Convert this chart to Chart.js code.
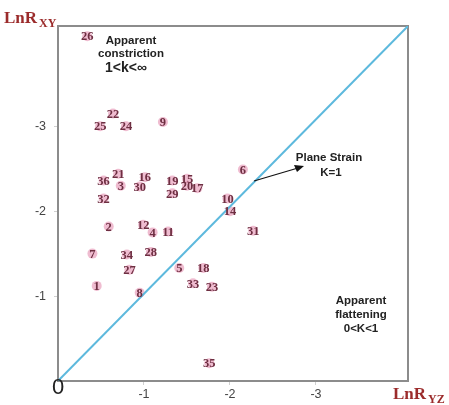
<!DOCTYPE html>
<html>
<head>
<meta charset="utf-8">
<script src="https://cdn.jsdelivr.net/npm/chart.js@4.4.0/dist/chart.umd.min.js"></script>
<style>
  html, body { margin: 0; padding: 0; background: #fff; }
  #wrap { width: 449px; height: 405px; position: relative; }
</style>
</head>
<body>
<div id="wrap"><canvas id="chart"></canvas></div>
<script>
// Échantillons : numéro, LnR_YZ (x), LnR_XY (y)
const SAMPLE_IDS = ['26','22','25','24','9','36','21','3','30','16','19','15','20','29','17','32',
  '2','12','4','11','7','34','28','27','5','18','1','8','33','23','6','10','14','31','35'];
const LN_RYZ = [-0.34,-0.64,-0.49,-0.79,-1.22,-0.53,-0.70,-0.73,-0.95,-1.01,-1.33,-1.50,-1.50,-1.33,-1.62,-0.53,
  -0.59,-0.99,-1.10,-1.28,-0.40,-0.80,-1.08,-0.83,-1.41,-1.69,-0.45,-0.95,-1.57,-1.79,-2.15,-1.97,-2.00,-2.27,-1.76];
const LN_RXY = [-4.06,-3.15,-3.00,-3.00,-3.05,-2.36,-2.44,-2.30,-2.29,-2.40,-2.36,-2.38,-2.30,-2.21,-2.27,-2.15,
  -1.82,-1.84,-1.75,-1.76,-1.50,-1.49,-1.52,-1.31,-1.33,-1.33,-1.12,-1.04,-1.15,-1.11,-2.49,-2.15,-2.00,-1.77,-0.21];

// Droite K=1 (déformation plane) : du coin origine au coin opposé
const K1_X = [0, -4.07];
const K1_Y = [0, -4.18];

const X_TICKS = [-1, -2, -3];
const Y_TICKS = [-1, -2, -3];

const GREY = '#8c8c8c';
const LABEL_RED = '#9b2b2b';

const points = LN_RYZ.map((x, i) => ({ x, y: LN_RXY[i], id: SAMPLE_IDS[i] }));

// Plugin : cadre, étiquettes des points, annotations
const decor = {
  id: 'decor',
  beforeDatasetsDraw(chart) {
    const { ctx, chartArea: a } = chart;
    ctx.save();
    ctx.strokeStyle = GREY;
    ctx.lineWidth = 2;
    ctx.strokeRect(a.left, a.top, a.right - a.left, a.bottom - a.top);
    ctx.restore();
  },
  afterDatasetsDraw(chart) {
    const { ctx, chartArea: a } = chart;
    const xs = chart.scales.x, ys = chart.scales.y;
    ctx.save();
    // numéros des échantillons
    ctx.font = 'bold 12.5px "Liberation Serif"';
    ctx.fillStyle = '#6e2f42';
    ctx.textAlign = 'center';
    ctx.textBaseline = 'middle';
    points.forEach(p => {
      ctx.fillText(p.id, xs.getPixelForValue(p.x), ys.getPixelForValue(p.y) + 1);
    });

    // titres des axes
    ctx.fillStyle = LABEL_RED;
    ctx.textAlign = 'left';
    ctx.textBaseline = 'alphabetic';
    ctx.font = 'bold 17px "Liberation Serif"';
    ctx.fillText('LnR', 4, 23);
    ctx.font = 'bold 12px "Liberation Serif"';
    ctx.fillText('XY', 39, 27);
    ctx.font = 'bold 17px "Liberation Serif"';
    ctx.fillText('LnR', 393, 399);
    ctx.font = 'bold 12px "Liberation Serif"';
    ctx.fillText('YZ', 428, 403);

    // origine
    ctx.fillStyle = '#222';
    ctx.font = '22px "Liberation Sans"';
    ctx.textAlign = 'center';
    ctx.fillText('0', a.left, a.bottom + 13);

    // annotations
    ctx.fillStyle = '#222';
    ctx.font = 'bold 11.5px "Liberation Sans"';
    ctx.fillText('Apparent', 131, 44);
    ctx.fillText('constriction', 131, 57);
    ctx.font = 'bold 14px "Liberation Sans"';
    ctx.fillText('1<k<\u221e', 126, 72);

    ctx.font = 'bold 11.5px "Liberation Sans"';
    ctx.fillText('Plane Strain', 329, 161);
    ctx.fillText('K=1', 331, 176);

    ctx.fillText('Apparent', 361, 304);
    ctx.fillText('flattening', 361, 318);
    ctx.fillText('0<K<1', 361, 332);

    // flèche
    ctx.strokeStyle = '#111';
    ctx.lineWidth = 1.2;
    ctx.beginPath();
    ctx.moveTo(254, 181);
    ctx.lineTo(298, 168);
    ctx.stroke();
    ctx.beginPath();
    ctx.moveTo(304, 166);
    ctx.lineTo(294, 165);
    ctx.lineTo(297, 172);
    ctx.closePath();
    ctx.fillStyle = '#111';
    ctx.fill();
    ctx.restore();
  }
};

new Chart(document.getElementById('chart'), {
  type: 'scatter',
  data: {
    datasets: [
      {
        type: 'line',
        data: K1_X.map((x, i) => ({ x, y: K1_Y[i] })),
        borderColor: '#5db9dd',
        borderWidth: 2,
        pointRadius: 0,
        fill: false
      },
      {
        data: points,
        pointRadius: 5,
        pointBackgroundColor: 'rgba(232,160,188,0.7)',
        pointBorderWidth: 0
      }
    ]
  },
  options: {
    responsive: true,
    maintainAspectRatio: false,
    animation: false,
    layout: { padding: { top: 26, right: 41, left: 0, bottom: 0 } },
    plugins: { legend: { display: false }, tooltip: { enabled: false } },
    scales: {
      x: {
        type: 'linear',
        min: -4.07, max: 0, reverse: true,
        grid: { display: true, drawOnChartArea: false, tickLength: 4, color: '#d0d0d0' },
        border: { display: false },
        afterBuildTicks: s => { s.ticks = X_TICKS.map(v => ({ value: v })); },
        afterFit: s => { s.height = 24; },
        ticks: { color: '#444', font: { family: 'Liberation Sans', size: 12.5 }, padding: 2 }
      },
      y: {
        type: 'linear',
        min: -4.18, max: 0, reverse: true,
        grid: { display: true, drawOnChartArea: false, tickLength: 4, color: '#d0d0d0' },
        border: { display: false },
        afterBuildTicks: s => { s.ticks = Y_TICKS.map(v => ({ value: v })); },
        afterFit: s => { s.width = 58; },
        ticks: { color: '#444', font: { family: 'Liberation Sans', size: 12.5 }, padding: 8 }
      }
    }
  },
  plugins: [decor]
});
</script>
</body>
</html>
